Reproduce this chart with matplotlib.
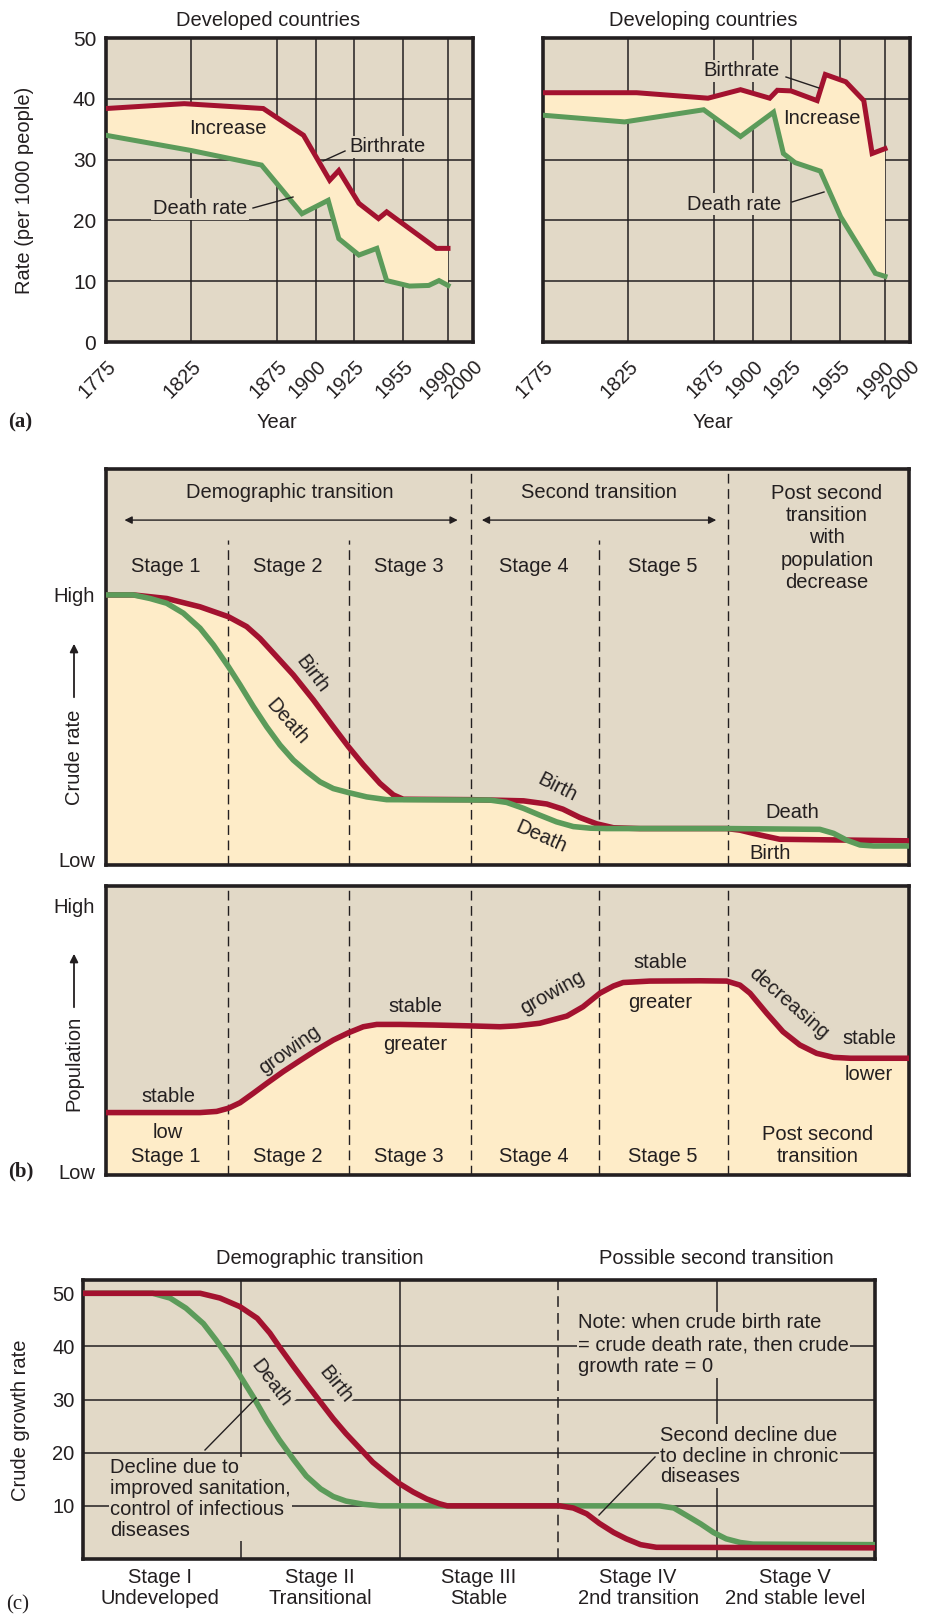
import numpy as np
import matplotlib
matplotlib.use('Agg')
import matplotlib.pyplot as plt
from matplotlib.lines import Line2D
from matplotlib.patches import FancyArrowPatch

plt.rcParams['font.family'] = ['Liberation Sans', 'DejaVu Sans']

# ---------------- data ----------------
# (a) year axis ticks (non-uniform spacing as printed)
tick_years = [1775, 1825, 1875, 1900, 1925, 1955, 1990, 2000]
tick_pos = [0, 85, 171, 210, 248, 297, 342, 367]

dev_birth_years = [1775, 1821, 1867, 1892, 1909, 1915, 1928, 1940, 1945, 1981, 1990]
dev_birth = [38.4, 39.2, 38.4, 34.0, 26.6, 28.2, 22.8, 20.3, 21.4, 15.4, 15.4]
dev_death_years = [1775, 1825, 1866, 1891, 1908, 1915, 1928, 1939, 1945, 1960, 1975, 1983, 1990]
dev_death = [34.0, 31.5, 29.1, 21.1, 23.3, 17.0, 14.3, 15.4, 10.1, 9.2, 9.3, 10.1, 9.3]

dvg_birth_years = [1775, 1830, 1871.5, 1892, 1911, 1916, 1925, 1941, 1946, 1959.5, 1973.5, 1980, 1990]
dvg_birth = [41.0, 41.0, 40.1, 41.5, 40.1, 41.4, 41.3, 39.7, 44.0, 42.8, 39.7, 31.0, 31.8]
dvg_death_years = [1775, 1823, 1869, 1892, 1913.5, 1920, 1927.5, 1943, 1955.5, 1982.5, 1990]
dvg_death = [37.3, 36.2, 38.2, 33.8, 37.8, 31.0, 29.5, 28.1, 20.6, 11.3, 10.8]

# (b) schematic stages (x in % of panel width, y in % of panel height)
stage_bounds = [15.2, 30.2, 45.4, 61.4, 77.5]
b_birth_x = [0, 3.4, 7.56, 11.71, 15.24, 17.52, 19.18, 21.26, 23.33, 25.82, 28.31, 30.18,
             32.04, 34.12, 35.78, 37.02, 45.4, 47.8, 52.0, 54.9, 56.9, 59.0, 61.1, 63.2,
             66.5, 77.3, 78.95, 81.4, 83.9, 100]
b_birth = [68.2, 68.2, 67.3, 65.2, 62.7, 60.2, 57.2, 52.6, 48.0, 41.7, 34.9, 29.9,
           25.3, 20.6, 17.7, 16.6, 16.5, 16.4, 16.2, 15.4, 14.1, 12.0, 10.4, 9.4,
           9.2, 9.2, 8.8, 7.6, 6.5, 6.1]
b_death_x = [0, 3.4, 5.48, 7.56, 9.63, 11.71, 13.37, 15.24, 16.69, 18.35, 20.01, 21.67,
             23.33, 24.99, 26.65, 28.31, 30.18, 32.46, 34.95, 47.8, 49.9, 52.0, 54.0,
             56.1, 58.2, 60.3, 62.3, 77.3, 88.9, 90.6, 92.2, 93.9, 95.6, 100]
b_death = [68.2, 68.2, 67.3, 66.1, 63.6, 59.8, 55.6, 50.1, 45.5, 40.0, 34.9, 30.3,
           26.5, 23.6, 21.0, 19.3, 18.3, 17.2, 16.5, 16.4, 15.8, 14.3, 12.6,
           10.9, 9.7, 9.3, 9.2, 9.2, 9.0, 8.0, 6.3, 5.05, 4.8, 4.8]
pop_x = [0, 11.71, 13.78, 15.24, 16.69, 18.35, 20.01, 22.08, 24.16, 26.24, 28.31, 30.18,
         32.04, 33.71, 36.61, 40.76, 45.33, 49.07, 51.1, 54.0, 57.4, 59.4, 61.5, 63.2,
         64.4, 67.7, 74.0, 77.3, 78.95, 80.2, 82.3, 84.3, 86.4, 88.5, 90.6, 92.7, 100]
pop = [21.6, 21.6, 22.0, 23.1, 25.0, 28.3, 31.7, 35.8, 39.6, 43.3, 46.7, 49.2,
       51.3, 52.1, 52.1, 51.9, 51.6, 51.3, 51.6, 52.5, 55.0, 58.2, 62.9, 65.4,
       66.6, 67.1, 67.2, 67.1, 65.7, 62.9, 55.9, 49.6, 45.0, 42.1, 40.7, 40.4, 40.4]

# (c) crude growth rate by stage (x: 0..5 stages)
c_birth_x = [0, 0.74, 0.865, 0.99, 1.10, 1.18, 1.24, 1.33, 1.41, 1.50, 1.58, 1.66, 1.75,
             1.83, 1.92, 2.0, 2.085, 2.17, 2.25, 2.30, 3.01, 3.095, 3.18, 3.26, 3.35,
             3.43, 3.52, 3.62, 5.0]
c_birth = [50, 50, 49.1, 47.5, 45.3, 42.5, 39.9, 36.2, 33.0, 29.5, 26.4, 23.6, 20.75,
           18.2, 16.0, 14.15, 12.6, 11.3, 10.4, 10.0, 10.0, 9.6, 8.5, 6.7, 5.0,
           3.8, 2.7, 2.2, 2.1]
c_death_x = [0, 0.44, 0.55, 0.65, 0.76, 0.84, 0.93, 1.01, 1.075, 1.16, 1.24, 1.33, 1.41,
             1.50, 1.58, 1.66, 1.77, 1.875, 3.64, 3.73, 3.81, 3.90, 3.98, 4.06, 4.15,
             4.23, 5.0]
c_death = [50, 50, 49.1, 47.2, 44.3, 41.2, 37.4, 33.6, 30.5, 26.1, 22.4, 18.7, 15.6,
           13.2, 11.75, 10.9, 10.3, 10.0, 10.0, 9.6, 8.2, 6.6, 5.0, 3.8, 3.1,
           2.8, 2.7]
c_yticks = [10, 20, 30, 40, 50]
c_stage_labels = ['Stage I\nUndeveloped', 'Stage II\nTransitional', 'Stage III\nStable',
                  'Stage IV\n2nd transition', 'Stage V\n2nd stable level']

# ---------------- style ----------------
W, H = 930, 1614
BG = '#E2D9C7'
FILL = '#FEECC8'
RED = '#A3122F'
GREEN = '#5C9B5A'
INK = '#231F20'
FS = 14.5

fig = plt.figure(figsize=(W / 100, H / 100), dpi=100)
fig.patch.set_facecolor('white')


def rect(l, t, r, b):
    return [l / W, 1 - b / H, (r - l) / W, (b - t) / H]


def T(x, y, s, bbox=None, ax=None, **kw):
    kw.setdefault('fontsize', FS)
    kw.setdefault('ha', 'center')
    kw.setdefault('va', 'center')
    kw.setdefault('color', INK)
    if bbox is not None:
        kw['bbox'] = dict(facecolor=bbox, edgecolor='none', pad=1.0)
    if ax is not None:
        return ax.text(x / W, 1 - y / H, s, transform=fig.transFigure, zorder=2.5,
                       clip_on=False, **kw)
    return fig.text(x / W, 1 - y / H, s, **kw)


def L(x1, y1, x2, y2, lw=1.0):
    fig.add_artist(Line2D([x1 / W, x2 / W], [1 - y1 / H, 1 - y2 / H],
                          transform=fig.transFigure, lw=lw, color=INK))


def up_arrow(x, y1, y2):
    fig.add_artist(FancyArrowPatch((x / W, 1 - y1 / H), (x / W, 1 - y2 / H),
                                   transform=fig.transFigure, arrowstyle='-|>',
                                   mutation_scale=12, lw=1.3, color=INK))


def frame(ax):
    ax.set_facecolor(BG)
    for s in ax.spines.values():
        s.set_linewidth(2.6)
        s.set_color(INK)


# ---------------- panel (a) ----------------
fwd = lambda v: np.interp(v, tick_years, tick_pos)
inv = lambda p: np.interp(p, tick_pos, tick_years)


def panel_a(rc, by, b, dy, d, show_y):
    ax = fig.add_axes(rc)
    frame(ax)
    ax.set_xscale('function', functions=(fwd, inv))
    ax.set_xlim(1775, 2000)
    ax.set_ylim(0, 50)
    ax.set_xticks(tick_years)
    ax.set_xticklabels([str(y) for y in tick_years], rotation=45, ha='right', va='top',
                       rotation_mode='anchor', fontsize=FS)
    ax.set_yticks([0, 10, 20, 30, 40, 50])
    if show_y:
        ax.set_yticklabels([str(v) for v in [0, 10, 20, 30, 40, 50]], fontsize=FS + 0.5)
    else:
        ax.set_yticklabels([])
    ax.tick_params(axis='y', length=0, pad=7, colors=INK)
    ax.tick_params(axis='x', length=0, pad=11, colors=INK)
    ax.grid(True, color=INK, lw=1.1)
    ax.set_axisbelow(True)
    ax.fill(list(by) + list(dy[::-1]), list(b) + list(d[::-1]), color=FILL, lw=0, zorder=1)
    ax.plot(by, b, color=RED, lw=3.6, zorder=3, solid_joinstyle='miter')
    ax.plot(dy, d, color=GREEN, lw=3.6, zorder=3, solid_joinstyle='miter')
    return ax


axL = panel_a(rect(106, 38, 473, 342), dev_birth_years, dev_birth, dev_death_years, dev_death, True)
axR = panel_a(rect(543, 38, 910, 342), dvg_birth_years, dvg_birth, dvg_death_years, dvg_death, False)

T(268, 20, 'Developed countries')
T(703, 20, 'Developing countries')
T(277, 422, 'Year')
T(713, 422, 'Year')
T(25, 190, 'Rate (per 1000 people)', rotation=90)
T(20, 422, '(a)', family='Liberation Serif', fontweight='bold', fontsize=15)

T(228, 128, 'Increase', ax=axL)
T(387, 147, 'Birthrate', bbox=BG, ax=axL)
L(345, 151, 323, 161)
T(200, 209, 'Death rate', bbox=BG, ax=axL)
L(253, 208, 293, 197)
T(741, 71, 'Birthrate', bbox=BG, ax=axR)
L(786, 77, 819, 88)
T(822, 119, 'Increase', ax=axR)
T(734, 204, 'Death rate', bbox=BG, ax=axR)
L(792, 202, 824, 192)

# ---------------- panel (b) top ----------------
ax = fig.add_axes(rect(106, 469, 909, 865))
frame(ax)
ax.set_xlim(0, 100)
ax.set_ylim(0, 100)
ax.set_xticks([])
ax.set_yticks([68.2, 1.5])
ax.set_yticklabels(['High', 'Low'], fontsize=FS)
ax.tick_params(axis='y', length=0, pad=8, colors=INK)
ax.fill_between(b_birth_x, 0, b_birth, color=FILL, lw=0, zorder=1)
ax.fill_between(b_death_x, 0, b_death, color=FILL, lw=0, zorder=1)
for i, xb in enumerate(stage_bounds):
    top = 100 if i in (2, 4) else 82
    ax.plot([xb, xb], [0, top], color=INK, lw=1, ls=(0, (7, 4)), zorder=2)
ax.plot(b_birth_x, b_birth, color=RED, lw=4, zorder=3)
ax.plot(b_death_x, b_death, color=GREEN, lw=4, zorder=4)
for x1, x2 in [(2.3, 43.8), (46.8, 76.0)]:
    ax.annotate('', xy=(x1, 87.1), xytext=(x2, 87.1),
                arrowprops=dict(arrowstyle='<|-|>', color=INK, lw=1, mutation_scale=11,
                                shrinkA=0, shrinkB=0))

T(290, 493, 'Demographic transition')
T(599, 493, 'Second transition')
T(827, 538, 'Post second\ntransition\nwith\npopulation\ndecrease', linespacing=1.22)
for xs, lab in zip([166, 288, 409, 534, 663], ['Stage 1', 'Stage 2', 'Stage 3', 'Stage 4', 'Stage 5']):
    T(xs, 567, lab)
T(312, 674, 'Birth', rotation=-53)
T(287, 722, 'Death', rotation=-49)
T(557, 787, 'Birth', rotation=-27)
T(541, 837, 'Death', rotation=-24)
T(792, 812, 'Death')
T(770, 854, 'Birth')
T(74, 757, 'Crude rate', rotation=90)
up_arrow(74, 700, 641)

# ---------------- panel (b) bottom ----------------
ax = fig.add_axes(rect(106, 886, 909, 1175))
frame(ax)
ax.set_xlim(0, 100)
ax.set_ylim(0, 100)
ax.set_xticks([])
ax.set_yticks([93.1, 1.1])
ax.set_yticklabels(['High', 'Low'], fontsize=FS)
ax.tick_params(axis='y', length=0, pad=8, colors=INK)
ax.fill_between(pop_x, 0, pop, color=FILL, lw=0, zorder=1)
for xb in stage_bounds:
    ax.plot([xb, xb], [0, 100], color=INK, lw=1, ls=(0, (7, 4)), zorder=2)
ax.plot(pop_x, pop, color=RED, lw=4, zorder=3)

T(168, 1097, 'stable')
T(168, 1132, 'low')
for xs, lab in zip([166, 288, 409, 534, 663], ['Stage 1', 'Stage 2', 'Stage 3', 'Stage 4', 'Stage 5']):
    T(xs, 1157, lab)
T(290, 1050, 'growing', rotation=35)
T(415, 1007, 'stable')
T(415, 1045, 'greater')
T(552, 993, 'growing', rotation=29)
T(660, 963, 'stable')
T(660, 1002, 'greater')
T(789, 1003, 'decreasing', rotation=-41)
T(869, 1038, 'stable')
T(869, 1075, 'lower')
T(818, 1146, 'Post second\ntransition', linespacing=1.2)
T(74, 1063, 'Population', rotation=90)
up_arrow(74, 1010, 951)
T(21, 1171, '(b)', family='Liberation Serif', fontweight='bold', fontsize=15)

# ---------------- panel (c) ----------------
ax = fig.add_axes(rect(83, 1280, 875, 1559))
frame(ax)
ax.set_xlim(0, 5)
ax.set_ylim(0, 52.5)
ax.set_xticks([])
ax.set_yticks(c_yticks)
ax.set_yticklabels([str(v) for v in c_yticks], fontsize=FS)
ax.tick_params(axis='y', length=0, pad=6, colors=INK)
for yv in c_yticks[:-1]:
    ax.plot([0, 5], [yv, yv], color=INK, lw=1.1, zorder=1)
for xv in [1, 2, 4]:
    ax.plot([xv, xv], [0, 52.5], color=INK, lw=1.1, zorder=1)
ax.plot([3, 3], [0, 52.5], color=INK, lw=1.1, ls=(0, (7, 4)), zorder=1)
ax.plot(c_death_x, c_death, color=GREEN, lw=4, zorder=3)
ax.plot(c_birth_x, c_birth, color=RED, lw=4, zorder=4)

T(320, 1259, 'Demographic transition')
T(716, 1259, 'Possible second transition')
T(578, 1345, 'Note: when crude birth rate\n= crude death rate, then crude\ngrowth rate = 0',
  ha='left', bbox=BG, linespacing=1.2, ax=ax)
T(660, 1456, 'Second decline due\nto decline in chronic\ndiseases', ha='left', bbox=BG,
  linespacing=1.12, ax=ax)
T(110, 1499, 'Decline due to\nimproved sanitation,\ncontrol of infectious\ndiseases',
  ha='left', bbox=BG, linespacing=1.12, ax=ax)
L(205, 1450, 256, 1398)
L(655, 1457, 599, 1515)
T(271, 1383, 'Death', rotation=-53, bbox=BG, ax=ax)
T(336, 1385, 'Birth', rotation=-51, bbox=BG, ax=ax)
for xs, lab in zip([160, 320, 479, 638, 795], c_stage_labels):
    T(xs, 1588, lab, linespacing=1.12)
T(21, 1420, 'Crude growth rate', rotation=90)
T(18, 1605, '(c)', family='Liberation Serif', fontsize=15)

fig.savefig('out.png', dpi=100, facecolor='white')
